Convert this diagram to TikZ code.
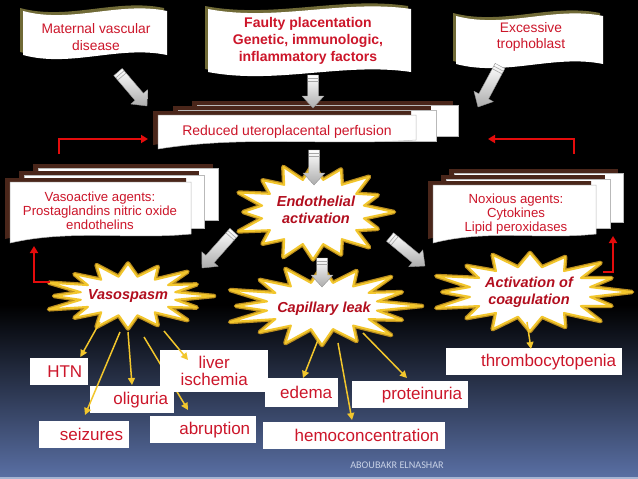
\documentclass[tikz,border=0pt]{standalone}
\usepackage{fontspec}
\setmainfont{Liberation Sans}
\newfontfamily\footfont{Carlito}
\usetikzlibrary{arrows.meta,calc}
\definecolor{txtred}{RGB}{204,22,42}
\definecolor{starred}{RGB}{178,14,30}
\definecolor{brn}{RGB}{74,38,26}
\definecolor{olivesh}{RGB}{112,106,54}
\definecolor{ylw}{RGB}{242,198,44}
\definecolor{glow}{RGB}{185,140,30}
\definecolor{bgmid}{RGB}{34,46,82}
\definecolor{bgblue}{RGB}{90,112,165}
\definecolor{redline}{RGB}{228,12,12}
\definecolor{footc}{RGB}{200,210,230}
\definecolor{bottomline}{RGB}{165,180,210}
\newcommand\wavepath[4]{(#1,#2) .. controls ({#1+(#3-#1)/3},{#2+13}) and ({#1+2*(#3-#1)/3},{#2-10}) .. (#3,#2) -- (#3,#4) .. controls ({#1+2*(#3-#1)/3},{#4-10}) and ({#1+(#3-#1)/3},{#4+13}) .. (#1,#4) -- cycle}
\newcommand\wavebanner[4]{%
  \fill[olivesh,shift={(-3,-3)}] \wavepath{#1}{#2}{#3}{#4};
  \fill[white] \wavepath{#1}{#2}{#3}{#4};}
\newcommand\layerbox[4]{%
  \fill[brn] ({#1-5},{#2-4}) rectangle ({#3-5},{#4-4});
  \filldraw[fill=white,draw=gray!55,line width=.5pt] (#1,#2) rectangle (#3,#4);}
\newcommand\docpath[4]{(#1,#2) -- (#3,#2) -- (#3,{#4-9}) .. controls ({#1+2*(#3-#1)/3},{#4-3}) and ({#1+(#3-#1)/3},{#4-14}) .. (#1,#4) -- cycle}
\newcommand\frontbox[4]{%
  \fill[brn,shift={(-5,-4)}] \docpath{#1}{#2}{#3}{#4};
  \filldraw[fill=white,draw=gray!55,line width=.5pt] \docpath{#1}{#2}{#3}{#4};}
% starburst: centre (#1,#2), radii #3,#4, inner ratio #5
\newcommand\drawburst[5]{%
  \path[burst] plot[samples at={0,11.25,...,348.75}] ({#1+burstr(\x,#5)*#3*cos(\x)},{#2+burstr(\x,#5)*#4*sin(\x)}) -- cycle;}
% fat block arrow from (#1,#2) to (#3,#4), pixel coordinates
\newcommand\fatarrow[4]{%
  \pgfmathsetmacro\fal{veclen(#3-#1,#4-#2)}%
  \pgfmathsetmacro\faa{atan2(-(#4-#2),#3-#1)}%
  \begin{scope}[shift={(#1,#2)},rotate=\faa]
    \shade[top color=white,bottom color=gray!65,draw=gray!85,line width=.4pt,line join=round]
      (0,-5.5) -- ({\fal-12},-5.5) -- ({\fal-12},-11) -- (\fal,0) -- ({\fal-12},11)
      -- ({\fal-12},5.5) -- (0,5.5) -- cycle;
    \draw[gray!70,line width=.6pt] (3,-5.5) -- (3,5.5) (6,-5.5) -- (6,5.5);
  \end{scope}}
\begin{document}
\begin{tikzpicture}[x=1pt,y=-1pt,
  declare function={burstr(\t,\q)=ifthenelse(mod(round(\t/11.25),2)==0,0.93+0.07*cos(7*\t),\q);},
  bantext/.style={text=txtred,align=center,font=\fontsize{13.8}{16.5}\selectfont},
  boldban/.style={text=txtred,align=center,font=\bfseries\fontsize{14}{17}\selectfont},
  boxtext/.style={text=txtred,align=center,font=\fontsize{13.2}{14}\selectfont},
  startext/.style={text=starred,align=center,font=\bfseries\itshape\fontsize{14.5}{17}\selectfont},
  burst/.style={fill=white,draw=ylw,line width=2pt,line join=round,
    preaction={draw=glow,line width=4.5pt,line join=round}},
  lbox/.style={fill=white,text=txtred,font=\fontsize{17}{17}\selectfont,inner xsep=6pt,
    inner ysep=0pt,minimum height=27pt,align=right,anchor=north west},
  yarr/.style={draw=ylw,line width=1.5pt,-{Triangle[length=7pt,width=7pt]}},
  redarr/.style={draw=redline,line width=2.4pt,-{Triangle[length=7pt,width=8pt]}}]
\useasboundingbox (0,0) rectangle (638,479);
% background
\fill[black] (0,0) rectangle (638,479);
\shade[top color=black,middle color=bgmid,bottom color=bgblue] (0,305) rectangle (638,479);
\fill[bottomline] (0,476.5) rectangle (638,479);

% top banners
\wavebanner{23}{11}{167}{55}
\wavebanner{208}{9}{411}{72}
\wavebanner{456}{16}{603}{64}
\node[bantext] (mat) at (96,37) {Maternal vascular\\disease};
\node[boldban] (fault) at (308,41) {Faulty placentation\\Genetic, immunologic,\\inflammatory factors};
\node[bantext] (troph) at (531,37) {Excessive\\trophoblast};

% stacked boxes
\layerbox{197}{105}{458}{136}
\layerbox{178}{110}{436}{141}
\frontbox{158}{115}{416}{149}
\node[boxtext,font=\fontsize{14}{16}\selectfont] (perf) at (287,132) {Reduced uteroplacental perfusion};

\layerbox{38}{168}{218}{220}
\layerbox{24}{175}{204}{228}
\frontbox{10}{182}{191}{243}
\node[boxtext] (vasoag) at (100,211) {Vasoactive agents:\\Prostaglandins nitric oxide\\endothelins};

\layerbox{454}{173}{623}{222}
\layerbox{446}{179}{610}{228}
\frontbox{433}{185}{596}{243}
\node[boxtext] (noxag) at (516,214) {Noxious agents:\\Cytokines\\Lipid peroxidases};

% starbursts
\drawburst{313}{212}{81}{51}{0.64}
\drawburst{128}{296}{86}{35}{0.56}
\drawburst{322}{306}{100}{42}{0.56}
\drawburst{530}{292}{102}{42}{0.6}
\node[startext] (endo) at (316,210) {Endothelial\\activation};
\node[startext] (vaso) at (128,296) {Vasospasm};
\node[startext] (cap) at (324,309) {Capillary leak};
\node[startext] (coag) at (529,292) {Activation of\\coagulation};

% fat arrows
\fatarrow{118}{72}{147}{106}
\fatarrow{313}{75}{313}{108}
\fatarrow{500}{66}{478}{107}
\fatarrow{314}{150}{314}{185}
\fatarrow{234}{232}{202}{268}
\fatarrow{390}{237}{425}{266}
\fatarrow{322}{258}{322}{287}

% red feedback connectors
\coordinate (r1a) at (59,154);  \coordinate (r1b) at (148,139);
\coordinate (r2a) at (574,154); \coordinate (r2b) at (488,139);
\coordinate (r3a) at (50,282);  \coordinate (r3b) at (34,246);
\coordinate (r4a) at (603,272); \coordinate (r4b) at (613,236);
\draw[redarr] (r1a) |- (r1b);
\draw[redarr] (r2a) |- (r2b);
\draw[redarr] (r3a) -| (r3b);
\draw[redarr] (r4a) -| (r4b);

% outcome boxes
\node[lbox,text width=46pt] (htn) at (30,358) {HTN};
\node[lbox,text width=72pt] (olig) at (90,386) {oliguria};
\node[lbox,text width=78pt] (seiz) at (39,421) {seizures};
\node[lbox,text width=94pt] (abr) at (150,416) {abruption};
\node[lbox,text width=61pt,minimum height=29pt] (edema) at (265,378) {edema};
\node[lbox,text width=104pt] (prot) at (352,381) {proteinuria};
\node[lbox,text width=170pt] (hemo) at (263,422) {hemoconcentration};
\node[lbox,text width=164pt] (thr) at (446,348) {thrombocytopenia};

% yellow arrows
\draw[yarr] ($(vaso)+(-28,26)$) -- ($(htn.north east)+(-8,-1)$);
\draw[yarr] ($(vaso)+(-8,36)$) -- ($(seiz.north west)+(46,-6)$);
\draw[yarr] ($(vaso)+(0,36)$) -- ($(olig.north west)+(42,-1)$);
\draw[yarr] ($(vaso)+(16,41)$) -- ($(abr.north west)+(38,-6)$);
\node[lbox,text width=96pt,minimum height=42pt,align=center,font=\fontsize{17}{17}\selectfont] (liver) at (160,350) {liver\\ischemia};
\draw[yarr] ($(vaso)+(36,35)$) -- ($(liver.north west)+(28,10)$);
\draw[yarr] ($(cap)+(-6,31)$) -- ($(edema.north west)+(38,0)$);
\draw[yarr] ($(cap)+(14,34)$) -- ($(hemo.north west)+(89,-2)$);
\draw[yarr] ($(cap)+(39,24)$) -- ($(prot.north west)+(55,-3)$);
\draw[yarr] ($(coag)+(-2,30)$) -- ($(thr.north west)+(85,1)$);

% footer
\node[font=\footfont\fontsize{10.2}{12}\selectfont,text=footc] (foot) at (397,465) {ABOUBAKR ELNASHAR};
\end{tikzpicture}
\end{document}
